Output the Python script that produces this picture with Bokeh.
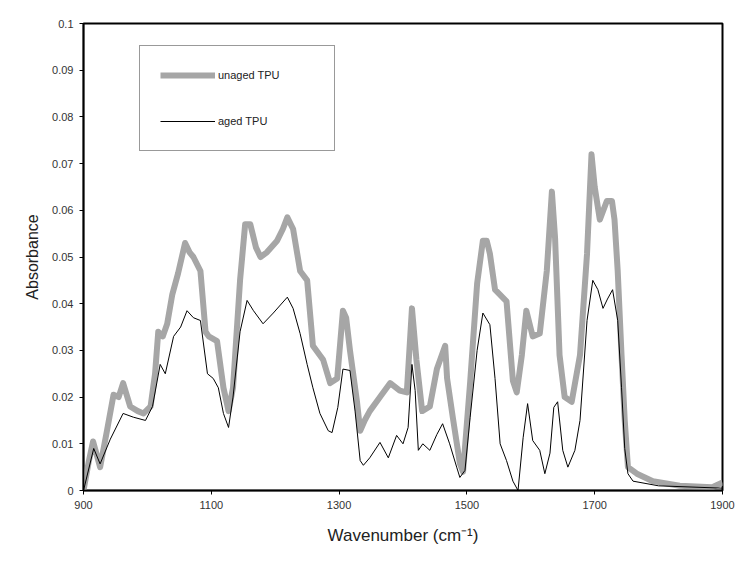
from bokeh.plotting import figure
from bokeh.models import FixedTicker, CustomJSTickFormatter, Legend, LegendItem, Range1d
from bokeh.embed import file_html
from bokeh.resources import INLINE

# ---- data ----
unaged_wn = [900, 908, 915, 926, 937, 947, 955, 962, 973, 985, 994, 1005, 1012, 1017, 1024, 1031,
             1039, 1048, 1059, 1066, 1072, 1083, 1091, 1096, 1109, 1119, 1127, 1134, 1145, 1153,
             1161, 1170, 1177, 1187, 1203, 1212, 1219, 1228, 1239, 1250, 1259, 1275, 1286, 1297,
             1306, 1311, 1317, 1328, 1333, 1340, 1348, 1364, 1380, 1395, 1406, 1414, 1421, 1430,
             1442, 1453, 1466, 1469, 1478, 1489, 1494, 1505, 1516, 1525, 1531, 1536, 1544, 1562,
             1572, 1578, 1586, 1593, 1603, 1614, 1625, 1633, 1638, 1645, 1653, 1664, 1677, 1688,
             1695, 1700, 1708, 1719, 1727, 1731, 1736, 1742, 1747, 1752, 1766, 1791, 1833, 1884, 1900]
unaged_abs = [0.000, 0.006, 0.0105, 0.005, 0.013, 0.0205, 0.020, 0.023, 0.018, 0.017, 0.0165, 0.018,
              0.025, 0.034, 0.033, 0.0357, 0.042, 0.0465, 0.053, 0.051, 0.050, 0.047, 0.034, 0.033,
              0.032, 0.022, 0.017, 0.022, 0.045, 0.057, 0.057, 0.052, 0.050, 0.051, 0.0535, 0.056,
              0.0585, 0.056, 0.047, 0.045, 0.031, 0.028, 0.023, 0.024, 0.0385, 0.037, 0.030, 0.019,
              0.0128, 0.015, 0.017, 0.020, 0.023, 0.0214, 0.021, 0.039, 0.028, 0.017, 0.018, 0.026,
              0.031, 0.024, 0.0156, 0.0058, 0.004, 0.023, 0.0443, 0.0535, 0.0535, 0.0507, 0.043,
              0.0405, 0.0235, 0.021, 0.029, 0.0385, 0.033, 0.0336, 0.047, 0.064, 0.054, 0.029, 0.020,
              0.019, 0.029, 0.0507, 0.072, 0.065, 0.058, 0.062, 0.062, 0.058, 0.047, 0.029, 0.015,
              0.005, 0.0036, 0.002, 0.001, 0.0007, 0.0017]

aged_wn = [900, 916, 926, 942, 962, 978, 997, 1008, 1020, 1028, 1041, 1052, 1062, 1072, 1083, 1094,
           1103, 1111, 1119, 1127, 1134, 1145, 1156, 1166, 1181, 1197, 1219, 1228, 1239, 1250, 1259,
           1270, 1283, 1289, 1298, 1306, 1317, 1325, 1333, 1338, 1348, 1364, 1377, 1390, 1400, 1408,
           1414, 1419, 1424, 1431, 1442, 1453, 1462, 1473, 1484, 1489, 1497, 1505, 1516, 1525, 1536,
           1544, 1552, 1562, 1572, 1580, 1588, 1595, 1603, 1614, 1622, 1630, 1636, 1642, 1650, 1658,
           1669, 1677, 1688, 1697, 1705, 1713, 1720, 1728, 1736, 1742, 1747, 1752, 1760, 1800, 1900]
aged_abs = [0.000, 0.009, 0.0057, 0.011, 0.0165, 0.0157, 0.015, 0.018, 0.027, 0.025, 0.033, 0.035,
            0.0385, 0.037, 0.0364, 0.025, 0.024, 0.022, 0.0165, 0.0135, 0.020, 0.034, 0.0407, 0.0385,
            0.0357, 0.038, 0.0414, 0.039, 0.0336, 0.027, 0.022, 0.0165, 0.0128, 0.0124, 0.0178, 0.026,
            0.0257, 0.017, 0.0064, 0.0054, 0.007, 0.0103, 0.007, 0.0118, 0.010, 0.0135, 0.027, 0.0214,
            0.0086, 0.010, 0.0086, 0.012, 0.0143, 0.010, 0.005, 0.0028, 0.0043, 0.0156, 0.030, 0.038,
            0.0355, 0.024, 0.010, 0.0064, 0.002, 0.000, 0.0113, 0.0186, 0.0107, 0.0086, 0.0036, 0.008,
            0.0178, 0.019, 0.0086, 0.005, 0.0086, 0.015, 0.0364, 0.045, 0.043, 0.039, 0.041, 0.043,
            0.0364, 0.022, 0.009, 0.0036, 0.002, 0.001, 0.0005]

x_ticks = [900, 1100, 1300, 1500, 1700, 1900]
y_ticks = [0, 0.01, 0.02, 0.03, 0.04, 0.05, 0.06, 0.07, 0.08, 0.09, 0.1]

FONT = "Liberation Sans"

p = figure(width=736, height=564, output_backend="svg", toolbar_location=None,
           x_range=Range1d(900, 1900), y_range=Range1d(0, 0.1),
           min_border_left=83, min_border_right=14, min_border_top=23, min_border_bottom=74)
p.background_fill_color = "white"
p.border_fill_color = "white"
p.outline_line_color = "black"
p.outline_line_width = 2
p.xgrid.visible = False
p.ygrid.visible = False

r_unaged = p.line(unaged_wn, unaged_abs, line_color="#a6a6a6", line_width=6, line_join="round")
r_aged = p.line(aged_wn, aged_abs, line_color="black", line_width=1)

for ax in (p.xaxis[0], p.yaxis[0]):
    ax.axis_line_color = "black"
    ax.axis_line_width = 1.5
    ax.major_tick_line_color = "black"
    ax.major_tick_in = 0
    ax.major_tick_out = 4
    ax.minor_tick_line_color = None
    ax.major_label_text_font = FONT
    ax.major_label_text_font_size = "11px"
    ax.major_label_text_color = "#333333"
    ax.axis_label_text_font = FONT
    ax.axis_label_text_font_style = "normal"
    ax.axis_label_text_color = "#222222"

p.xaxis.ticker = FixedTicker(ticks=x_ticks)
p.yaxis.ticker = FixedTicker(ticks=y_ticks)
p.yaxis.formatter = CustomJSTickFormatter(code="""
    if (Math.abs(tick) < 1e-9) { return "0"; }
    return tick.toFixed(2).replace(/0+$/, "");
""")
p.xaxis.axis_label = "Wavenumber (cm\u207b\u00b9)"
p.xaxis.axis_label_text_font_size = "17px"
p.xaxis.major_label_standoff = 6
p.xaxis.axis_label_standoff = 14
p.yaxis.axis_label = "Absorbance"
p.yaxis.axis_label_text_font_size = "16px"
p.yaxis.major_label_standoff = 6
p.yaxis.axis_label_standoff = 8

legend = Legend(items=[LegendItem(label="unaged TPU", renderers=[r_unaged]),
                       LegendItem(label="aged TPU", renderers=[r_aged])],
                location=(56, 339), orientation="vertical")
legend.border_line_color = "#333333"
legend.border_line_width = 1.5
legend.background_fill_color = "white"
legend.background_fill_alpha = 1
legend.label_text_font = FONT
legend.label_text_font_size = "11px"
legend.label_text_color = "#222222"
legend.glyph_width = 55
legend.glyph_height = 18
legend.label_height = 18
legend.label_width = 96
legend.label_standoff = 3
legend.spacing = 28
legend.padding = 20
legend.margin = 0
p.add_layout(legend)

open("out.html", "w").write(file_html(p, INLINE))
